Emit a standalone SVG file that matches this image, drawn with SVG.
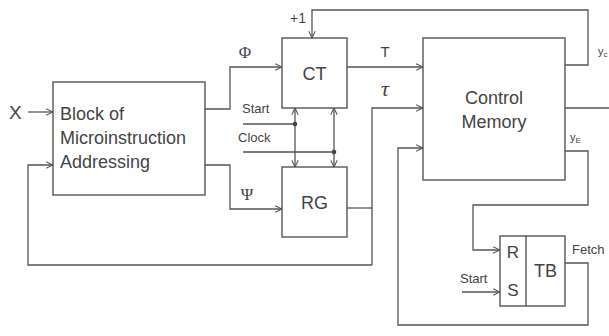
<svg xmlns="http://www.w3.org/2000/svg" width="609" height="336" viewBox="0 0 609 336">
<defs>
<marker id="arr" viewBox="0 0 10 10" refX="9.5" refY="5" markerWidth="8" markerHeight="8" orient="auto" markerUnits="userSpaceOnUse">
<path d="M1,1 L9.5,5 L1,9" fill="none" stroke="#555" stroke-width="1.3"/>
</marker>
<marker id="arrs" viewBox="0 0 10 10" refX="0.5" refY="5" markerWidth="8" markerHeight="8" orient="auto" markerUnits="userSpaceOnUse">
<path d="M9,1 L0.5,5 L9,9" fill="none" stroke="#555" stroke-width="1.3"/>
</marker>
</defs>
<style>
.box{fill:none;stroke:#555;stroke-width:1.4}
.ln{fill:none;stroke:#555;stroke-width:1.3}
.t{font-family:"Liberation Sans",Arial,sans-serif;fill:#444}
.s{font-family:"Liberation Serif","Times New Roman",serif;fill:#444}
.big{font-size:18px}
.sm{font-size:13px}
</style>
<rect width="609" height="336" fill="#fff"/>
<g id="block">
<rect class="box" x="53" y="82" width="152" height="113"/>
<text class="t big" x="60" y="120">Block of</text>
<text class="t big" x="60" y="144">Microinstruction</text>
<text class="t big" x="60" y="168">Addressing</text>
</g>
<g id="ct">
<rect class="box" x="282" y="38" width="65" height="70"/>
<text class="t big" x="314.5" y="80" text-anchor="middle">CT</text>
</g>
<g id="rg">
<rect class="box" x="282" y="167" width="65" height="70"/>
<text class="t big" x="314.5" y="209" text-anchor="middle">RG</text>
</g>
<g id="cm">
<rect class="box" x="423" y="38" width="142" height="142"/>
<text class="t big" x="494" y="104" text-anchor="middle">Control</text>
<text class="t big" x="494" y="128" text-anchor="middle">Memory</text>
</g>
<g id="tb">
<rect class="box" x="500" y="236" width="65" height="70"/>
<line class="box" x1="526" y1="236" x2="526" y2="306"/>
<text class="t" font-size="17" x="513" y="258" text-anchor="middle">R</text>
<text class="t" font-size="17" x="513" y="296" text-anchor="middle">S</text>
<text class="t big" x="545.5" y="277" text-anchor="middle">TB</text>
</g>
<g id="connectors">
<path class="ln" d="M28,112 H53" marker-end="url(#arr)"/>
<path class="ln" d="M205,109 H230 V67 H282" marker-end="url(#arr)"/>
<path class="ln" d="M205,165 H230 V209 H282" marker-end="url(#arr)"/>
<path class="ln" d="M565,65 H588 V10 H312 V38" marker-end="url(#arr)"/>
<path class="ln" d="M347,67 H423" marker-end="url(#arr)"/>
<path class="ln" d="M347,208 H372"/>
<path class="ln" d="M372,265 V108 H423" marker-end="url(#arr)"/>
<path class="ln" d="M372,265 H28 V165 H53" marker-end="url(#arr)"/>
<path class="ln" d="M565,108 H609"/>
<path class="ln" d="M565,151 H588 V205 H473 V250 H500" marker-end="url(#arr)"/>
<path class="ln" d="M462,292 H500" marker-end="url(#arr)"/>
<path class="ln" d="M565,263 H588 V325 H398 V148 H423" marker-end="url(#arr)"/>
<path class="ln" d="M243,124 H295"/>
<path class="ln" d="M243,152 H334"/>
<path class="ln" d="M295,108 V167" marker-start="url(#arrs)" marker-end="url(#arr)"/>
<path class="ln" d="M334,108 V167" marker-start="url(#arrs)" marker-end="url(#arr)"/>
<circle cx="295" cy="124" r="2.3" fill="#444"/>
<circle cx="334" cy="152" r="2.3" fill="#444"/>
</g>
<g id="labels">
<text class="t" font-size="19" x="9" y="119">X</text>
<text class="s" font-size="17" x="245" y="58" text-anchor="middle">Φ</text>
<text class="s" font-size="17" x="247" y="200" text-anchor="middle">Ψ</text>
<text class="t" font-size="14" x="298" y="23" text-anchor="middle">+1</text>
<text class="t" font-size="15" x="385" y="57" text-anchor="middle">T</text>
<text class="s" font-size="22" font-style="italic" x="385" y="96" text-anchor="middle">τ</text>
<text class="t sm" x="242" y="113">Start</text>
<text class="t sm" x="238" y="142">Clock</text>
<text class="t sm" x="460" y="283">Start</text>
<text class="t sm" x="572" y="254">Fetch</text>
<text class="t" font-size="11" fill="#666" x="570" y="141">y<tspan font-size="8" dy="2">E</tspan></text>
<text class="t" font-size="11" fill="#666" x="598" y="55">y<tspan font-size="8" dy="2">c</tspan></text>
</g>
</svg>
